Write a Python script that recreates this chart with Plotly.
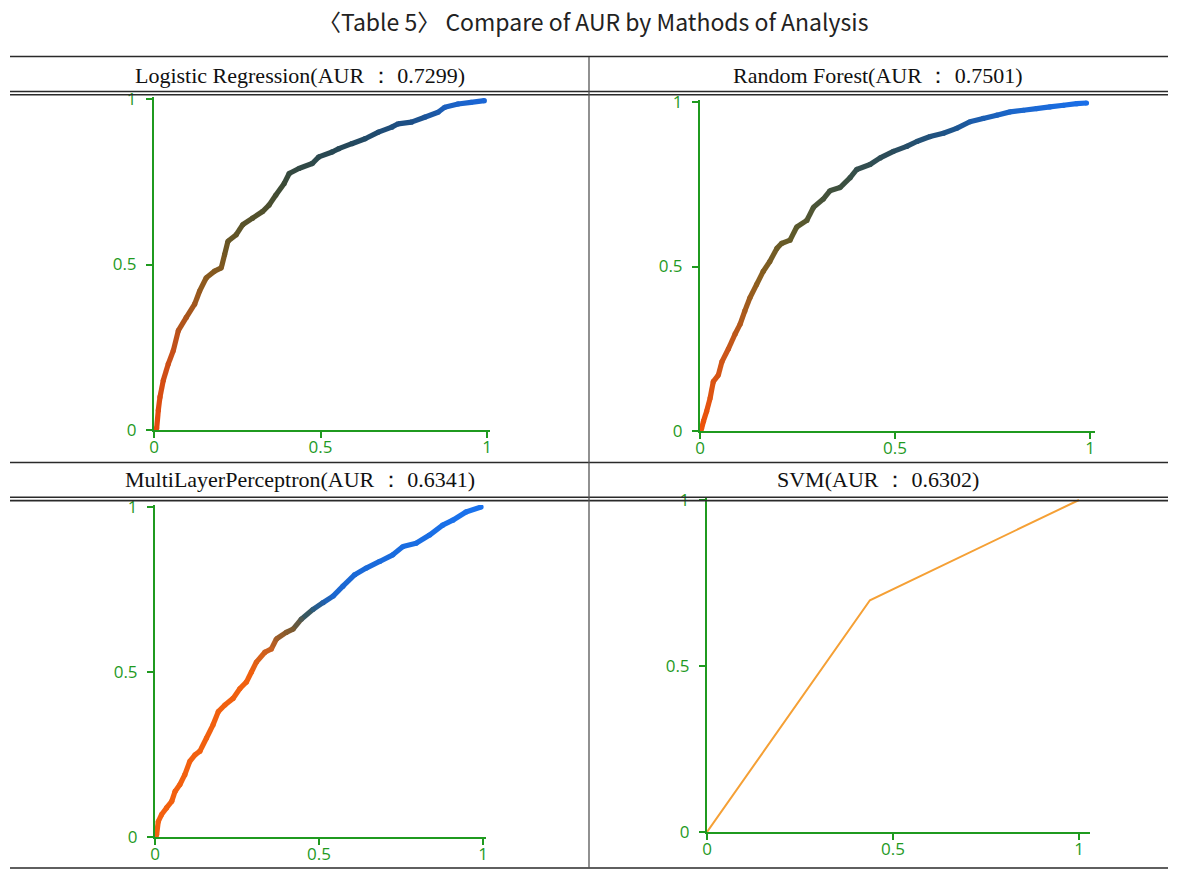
import plotly.graph_objects as go
from plotly.colors import sample_colorscale

W, H = 1187, 871

# ---------------- data ----------------
title_text = "〈Table 5〉 Compare of AUR by Mathods of Analysis"
panel_titles = [
    "Logistic Regression(AUR ： 0.7299)",
    "Random Forest(AUR ： 0.7501)",
    "MultiLayerPerceptron(AUR ： 0.6341)",
    "SVM(AUR ： 0.6302)",
]

lr_fpr = [0.0, 0.008, 0.013, 0.018, 0.028, 0.043, 0.058, 0.073, 0.097, 0.122, 0.137, 0.157, 0.182,
          0.202, 0.212, 0.222, 0.247, 0.266, 0.296, 0.326, 0.346, 0.366, 0.391, 0.406, 0.435,
          0.475, 0.495, 0.535, 0.555, 0.594, 0.634, 0.674, 0.714, 0.733, 0.773, 0.813, 0.853,
          0.873, 0.913, 0.952, 0.992]
lr_tpr = [0.0, 0.005, 0.06, 0.10, 0.15, 0.20, 0.24, 0.30, 0.34, 0.38, 0.42, 0.46, 0.48,
          0.49, 0.53, 0.57, 0.59, 0.62, 0.64, 0.66, 0.68, 0.71, 0.745, 0.775, 0.79,
          0.805, 0.825, 0.84, 0.85, 0.865, 0.88, 0.90, 0.915, 0.925, 0.93, 0.945, 0.96,
          0.975, 0.985, 0.99, 0.995]

rf_fpr = [0.0, 0.004, 0.009, 0.017, 0.026, 0.034, 0.047, 0.056, 0.073, 0.09, 0.103, 0.115, 0.128,
          0.145, 0.162, 0.179, 0.197, 0.209, 0.231, 0.248, 0.274, 0.291, 0.316, 0.333, 0.359,
          0.385, 0.402, 0.436, 0.462, 0.496, 0.53, 0.556, 0.59, 0.624, 0.658, 0.692, 0.726,
          0.761, 0.795, 0.829, 0.863, 0.897, 0.932, 0.966, 0.991]
rf_tpr = [0.0, 0.007, 0.03, 0.06, 0.10, 0.15, 0.17, 0.21, 0.25, 0.295, 0.325, 0.365, 0.405,
          0.445, 0.485, 0.515, 0.555, 0.57, 0.58, 0.62, 0.64, 0.68, 0.705, 0.73, 0.74,
          0.77, 0.795, 0.81, 0.83, 0.85, 0.865, 0.88, 0.895, 0.905, 0.92, 0.94, 0.95,
          0.96, 0.97, 0.975, 0.98, 0.985, 0.99, 0.995, 0.997]

mlp_fpr = [0.0, 0.005, 0.01, 0.02, 0.035, 0.051, 0.061, 0.076, 0.091, 0.106, 0.122, 0.137, 0.157,
           0.177, 0.193, 0.213, 0.238, 0.259, 0.279, 0.294, 0.309, 0.335, 0.355, 0.37, 0.40,
           0.421, 0.446, 0.482, 0.512, 0.543, 0.573, 0.609, 0.644, 0.685, 0.725, 0.756, 0.796,
           0.837, 0.877, 0.908, 0.948, 0.994]
mlp_tpr = [0.0, 0.007, 0.047, 0.068, 0.088, 0.108, 0.138, 0.159, 0.189, 0.229, 0.249, 0.26, 0.30,
           0.34, 0.38, 0.40, 0.42, 0.45, 0.47, 0.50, 0.53, 0.56, 0.57, 0.60, 0.62,
           0.63, 0.66, 0.69, 0.71, 0.73, 0.76, 0.795, 0.815, 0.835, 0.855, 0.88, 0.89,
           0.915, 0.945, 0.96, 0.985, 1.0]

svm_fpr = [0.0, 0.438, 1.0]
svm_tpr = [0.0, 0.698, 1.0]

tick_vals = [0, 0.5, 1]
tick_text = ["0", "0.5", "1"]

# ---------------- style ----------------
GREEN = "#1f9a1f"
LINE = "#2a2a2a"

# colour ramps (by TPR) for each gradient curve
lr_scale = [[0.0, "#e84a0c"], [0.25, "#c4501a"], [0.45, "#8c5a1e"], [0.6, "#5e5426"],
            [0.75, "#3a4a38"], [0.86, "#24485a"], [0.93, "#1d4f86"], [1.0, "#1a68dc"]]
rf_scale = [[0.0, "#f0520a"], [0.25, "#c9561a"], [0.45, "#8e5e1e"], [0.6, "#5f5a2a"],
            [0.75, "#3c5040"], [0.85, "#2a4c5c"], [0.92, "#1d5590"], [1.0, "#1a70ec"]]
mlp_scale = [[0.0, "#f3600f"], [0.5, "#f0600f"], [0.57, "#c86020"], [0.63, "#7a5a30"],
             [0.68, "#305868"], [0.73, "#1a66d0"], [1.0, "#1a72ee"]]

# panel pixel geometry: (x at 0, x at 1, x axis end, y at 0, y at 1, y axis top)
geo = [
    (154, 487, 490, 430, 99, 97),
    (700, 1090, 1095, 431, 102, 100),
    (155, 483, 486, 837, 507, 505),
    (707, 1079, 1090, 832, 500, 498),
]

fig = go.Figure()


def add_gradient(fig, xs, ys, scale, k, width=5.2):
    cols = sample_colorscale(scale, [min(max(v, 0), 1) for v in ys])
    for i in range(len(xs) - 1):
        c = sample_colorscale(scale, [min(max((ys[i] + ys[i + 1]) / 2, 0), 1)])[0]
        fig.add_trace(go.Scatter(x=xs[i:i + 2], y=ys[i:i + 2], mode="lines",
                                 line=dict(color=c, width=width),
                                 xaxis=f"x{k}", yaxis=f"y{k}", showlegend=False,
                                 hoverinfo="skip"))
    fig.add_trace(go.Scatter(x=xs, y=ys, mode="markers",
                             marker=dict(color=cols, size=width, line=dict(width=0)),
                             xaxis=f"x{k}", yaxis=f"y{k}", showlegend=False,
                             hoverinfo="skip"))


add_gradient(fig, lr_fpr, lr_tpr, lr_scale, 1)
add_gradient(fig, rf_fpr, rf_tpr, rf_scale, 2)
add_gradient(fig, mlp_fpr, mlp_tpr, mlp_scale, 3)
fig.add_trace(go.Scatter(x=svm_fpr, y=svm_tpr, mode="lines",
                         line=dict(color="#f5a035", width=2),
                         xaxis="x4", yaxis="y4", showlegend=False, hoverinfo="skip"))

layout = dict(
    width=W, height=H,
    margin=dict(l=0, r=0, t=0, b=0, autoexpand=False),
    paper_bgcolor="white", plot_bgcolor="white",
    showlegend=False,
)

for k, (x0, x1, xe, y0, y1, yt) in enumerate(geo, start=1):
    common = dict(
        showline=True, linecolor=GREEN, linewidth=2,
        ticks="outside", tickcolor=GREEN, ticklen=6, tickwidth=2,
        tickvals=tick_vals, ticktext=tick_text,
        tickfont=dict(family="Open Sans", size=17, color=GREEN),
        showgrid=False, zeroline=False, fixedrange=True,
    )
    ax = dict(domain=[x0 / W, xe / W], range=[0, (xe - x0) / (x1 - x0)],
              anchor=f"y{k}", ticklabelstandoff=-5, **common)
    ay = dict(domain=[1 - y0 / H, 1 - yt / H], range=[0, (y0 - yt) / (y0 - y1)],
              anchor=f"x{k}", ticklabelstandoff=6, **common)
    layout[f"xaxis{k}" if k > 1 else "xaxis"] = ax
    layout[f"yaxis{k}" if k > 1 else "yaxis"] = ay

fig.update_layout(**layout)


def hline(py, w=1.3, x0=10, x1=1168):
    return dict(type="line", xref="paper", yref="paper",
                x0=x0 / W, x1=x1 / W, y0=1 - py / H, y1=1 - py / H,
                line=dict(color=LINE, width=w))


shapes = [
    hline(56.5, 1.3),
    hline(91.5, 1.6), hline(94.8, 1.6),
    hline(462.5, 1.3),
    hline(497.3, 1.6), hline(500.6, 1.6),
    hline(868, 1.3),
    dict(type="line", xref="paper", yref="paper",
         x0=589 / W, x1=589 / W, y0=1 - 57 / H, y1=1 - 868 / H,
         line=dict(color="#555555", width=1.3)),
]

annotations = [
    dict(text=title_text, x=593 / W, y=1 - 21 / H, xref="paper", yref="paper",
         showarrow=False, xanchor="center", yanchor="middle",
         font=dict(family="Noto Sans CJK KR", size=23, color="#222222")),
]
header_pos = [(300, 75), (878, 75), (300, 480), (878, 480)]
for txt, (px, py) in zip(panel_titles, header_pos):
    annotations.append(dict(text=txt, x=px / W, y=1 - py / H, xref="paper", yref="paper",
                            showarrow=False, xanchor="center", yanchor="middle",
                            font=dict(family="Liberation Serif", size=22, color="#111111")))

fig.update_layout(shapes=shapes, annotations=annotations)
fig.write_html(
    "out.html",
    config={"displayModeBar": False},
    post_script="document.body.style.margin='0';document.body.style.overflow='hidden';",
)
